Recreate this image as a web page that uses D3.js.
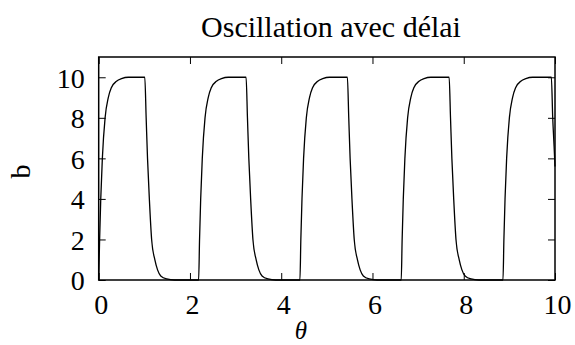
<!DOCTYPE html>
<html>
<head>
<meta charset="utf-8">
<script src="https://cdn.jsdelivr.net/npm/d3@7"></script>
<style>
  html, body { margin: 0; padding: 0; background: #fff; }
  svg { display: block; }
  text { font-family: "Liberation Serif", "Times New Roman", serif; fill: #000; }
</style>
</head>
<body>
<svg id="chart" width="575" height="345"></svg>
<script>
// ---- data ----
const title = "Oscillation avec délai";
const xLabel = "θ";
const yLabel = "b";
const xTicks = [0, 2, 4, 6, 8, 10];
const yTicks = [0, 2, 4, 6, 8, 10];
const theta = [
  0, 0.02, 0.045, 0.08, 0.14, 0.21, 0.28, 0.39, 0.5, 0.65,
  1.01, 1.04, 1.07, 1.11, 1.16, 1.23, 1.29, 1.36, 1.49, 1.66,
  2.19, 2.21, 2.235, 2.27, 2.33, 2.40, 2.47, 2.58, 2.69, 2.84,
  3.23, 3.26, 3.29, 3.33, 3.38, 3.45, 3.51, 3.58, 3.71, 3.88,
  4.41, 4.43, 4.455, 4.49, 4.55, 4.62, 4.69, 4.80, 4.91, 5.06,
  5.45, 5.48, 5.51, 5.55, 5.60, 5.67, 5.73, 5.80, 5.93, 6.10,
  6.63, 6.65, 6.675, 6.71, 6.77, 6.84, 6.91, 7.02, 7.13, 7.28,
  7.68, 7.71, 7.74, 7.78, 7.83, 7.90, 7.96, 8.03, 8.16, 8.33,
  8.86, 8.88, 8.905, 8.94, 9.00, 9.07, 9.14, 9.25, 9.36, 9.51,
  9.92, 9.95, 9.98, 10.0
];
const b = [
  0, 2, 4, 6, 8, 9, 9.5, 9.8, 9.93, 10,
  10, 8, 6, 4, 2, 1, 0.5, 0.2, 0.05, 0,
  0, 2, 4, 6, 8, 9, 9.5, 9.8, 9.93, 10,
  10, 8, 6, 4, 2, 1, 0.5, 0.2, 0.05, 0,
  0, 2, 4, 6, 8, 9, 9.5, 9.8, 9.93, 10,
  10, 8, 6, 4, 2, 1, 0.5, 0.2, 0.05, 0,
  0, 2, 4, 6, 8, 9, 9.5, 9.8, 9.93, 10,
  10, 8, 6, 4, 2, 1, 0.5, 0.2, 0.05, 0,
  0, 2, 4, 6, 8, 9, 9.5, 9.8, 9.93, 10,
  10, 8, 6.6, 5.6
];

// ---- layout ----
const mLeft = 98.7, mRight = 555, mTop = 57, mBottom = 280;
const svg = d3.select("#chart");

const x = d3.scaleLinear().domain([0, 10]).range([mLeft, mRight]);
const y = d3.scaleLinear().domain([0, 11]).range([mBottom, mTop]);

const tickLen = 7;
const fs = 28;

const gx = svg.append("g").attr("transform", `translate(0,${mBottom})`)
  .call(d3.axisBottom(x).tickValues(xTicks).tickSizeInner(-tickLen).tickSizeOuter(0).tickFormat(d3.format("d")));
const gxt = svg.append("g").attr("transform", `translate(0,${mTop})`)
  .call(d3.axisTop(x).tickValues(xTicks).tickSizeInner(-tickLen).tickSizeOuter(0).tickFormat(""));
const gy = svg.append("g").attr("transform", `translate(${mLeft},0)`)
  .call(d3.axisLeft(y).tickValues(yTicks).tickSizeInner(-tickLen).tickSizeOuter(0).tickFormat(d3.format("d")));
const gyr = svg.append("g").attr("transform", `translate(${mRight},0)`)
  .call(d3.axisRight(y).tickValues(yTicks).tickSizeInner(-tickLen).tickSizeOuter(0).tickFormat(""));

[gx, gxt, gy, gyr].forEach(g => {
  g.select(".domain").remove();
  g.selectAll(".tick line").attr("stroke", "#000").attr("stroke-width", 1);
  g.selectAll(".tick text").style("font-size", fs + "px").style("font-family", '"Liberation Serif", serif').attr("fill", "#000");
});
gx.selectAll(".tick text").attr("y", 34).attr("dy", 0).attr("dx", 2);
gy.selectAll(".tick text").attr("x", -14).attr("dy", "0.35em");

svg.append("rect").attr("x", mLeft).attr("y", mTop).attr("width", mRight - mLeft).attr("height", mBottom - mTop)
  .attr("fill", "none").attr("stroke", "#000").attr("stroke-width", 1.5);

const pts = theta.map((t, i) => [t, b[i]]);
const line = d3.line().x(d => x(d[0])).y(d => y(d[1])).curve(d3.curveMonotoneX);
svg.append("path").datum(pts).attr("d", line)
  .attr("fill", "none").attr("stroke", "#000").attr("stroke-width", 1.3);

svg.append("text").attr("x", 331).attr("y", 37).attr("text-anchor", "middle")
  .style("font-size", "30px").text(title);

svg.append("text").attr("x", 301).attr("y", 339).attr("text-anchor", "middle")
  .style("font-size", "25px").style("font-style", "italic").text(xLabel);
svg.append("text").attr("transform", `translate(30,${(mTop + mBottom) / 2 + 3}) rotate(-90)`).attr("text-anchor", "middle")
  .style("font-size", fs + "px").text(yLabel);
</script>
</body>
</html>
